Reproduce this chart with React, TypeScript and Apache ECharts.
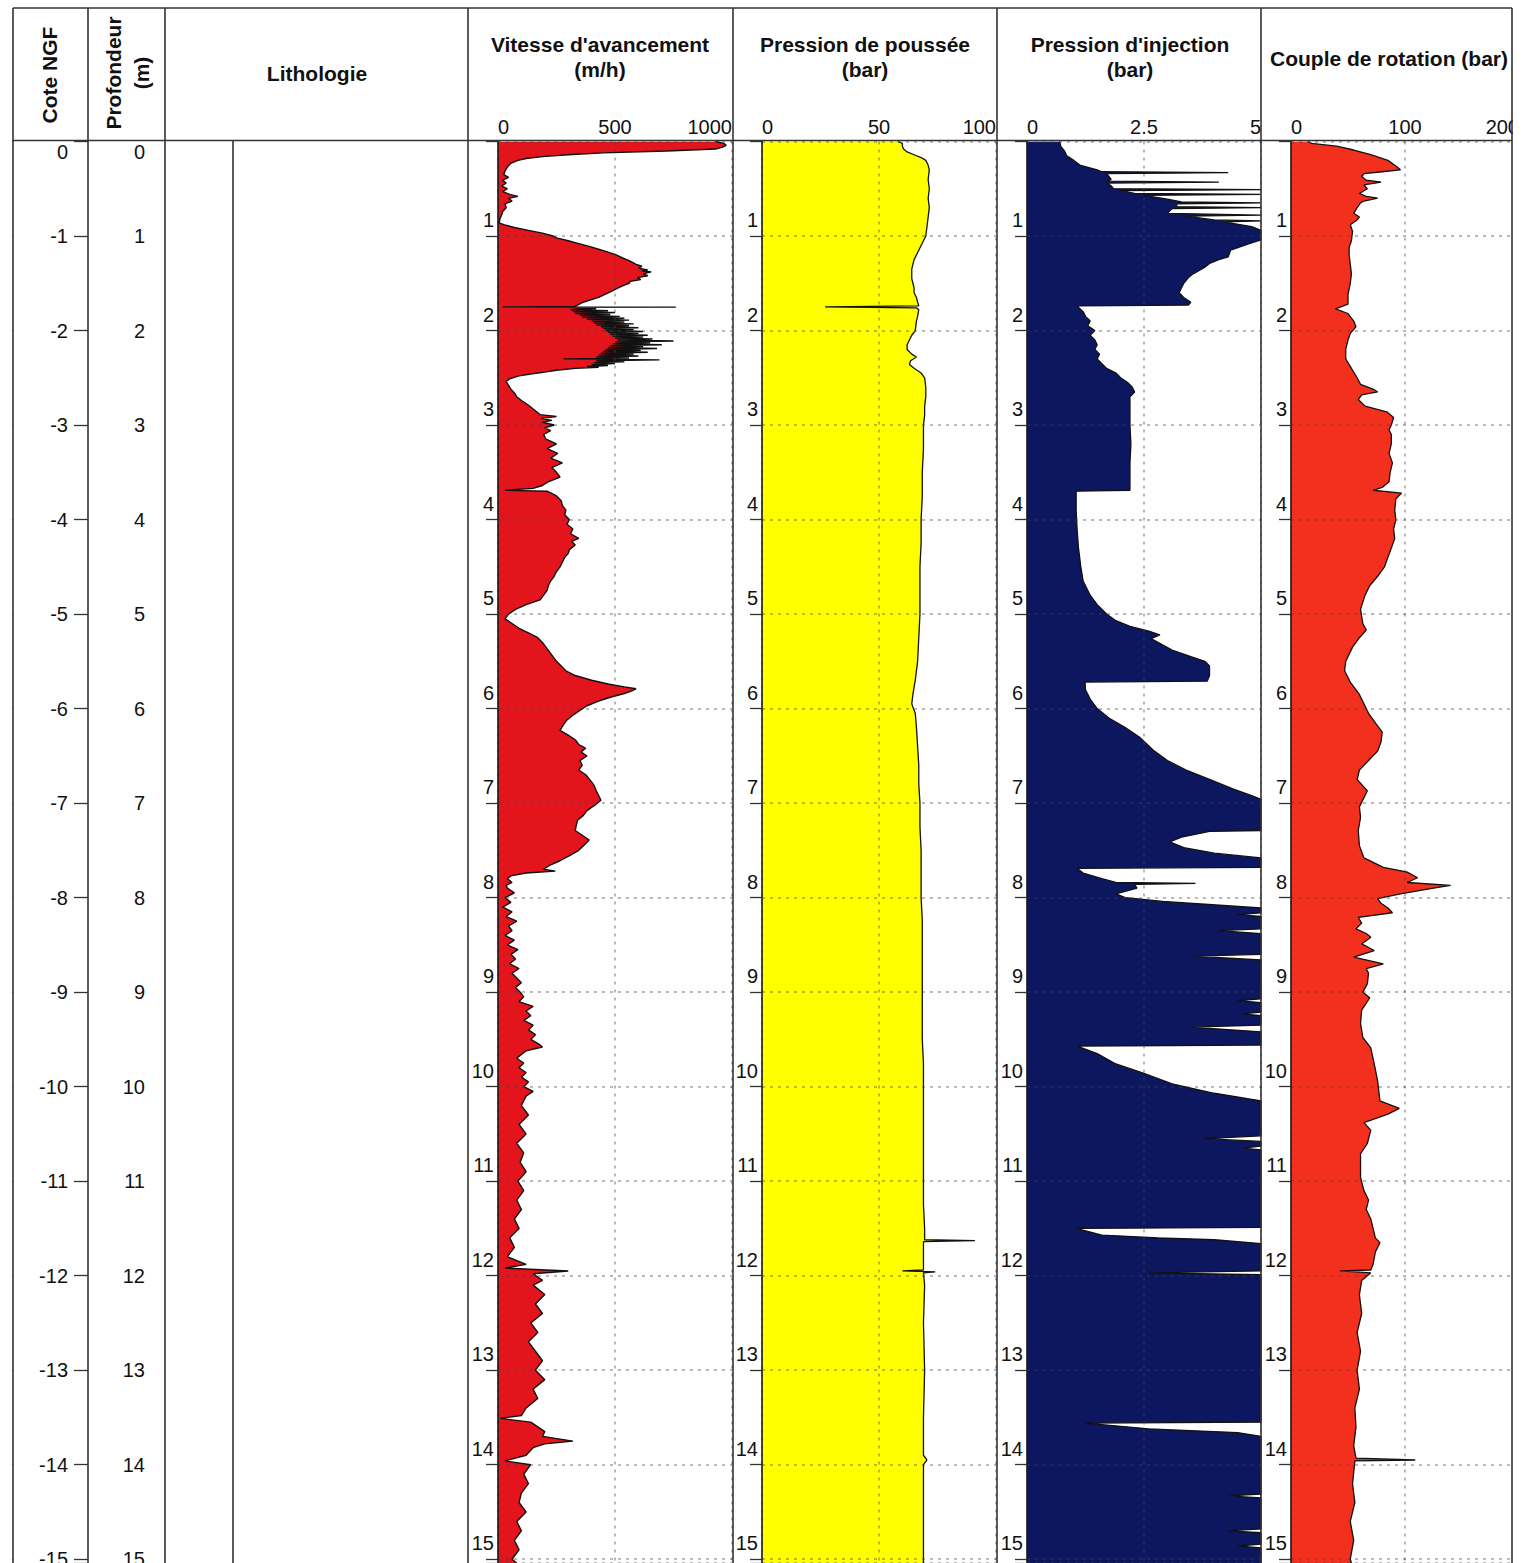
import React, { useEffect, useRef } from "react";
import * as echarts from "echarts";

const FONT = '"Liberation Sans", Arial, Helvetica, sans-serif';
const DEPTH_MAX = 15.04;
const TOP = 141.5;
const PAGE_H = 1563;

// [depth (m), value]
const vitesse: [number, number][] = [
  [0.00, 930],[0.02, 965],[0.04, 975],[0.06, 960],[0.08, 930],[0.10, 720],[0.12, 450],[0.14, 300],[0.16, 190],[0.18, 120],[0.20, 85],[0.23, 55],[0.27, 40],[0.31, 30],[0.35, 25],[0.38, 45],[0.41, 20],[0.44, 35],[0.47, 15],[0.50, 40],[0.53, 20],[0.56, 50],[0.58, 85],[0.60, 45],[0.63, 60],[0.66, 30],[0.70, 35],[0.74, 20],[0.78, 15],[0.82, 8],[0.86, 5],[0.88, 25],[0.91, 70],[0.94, 130],[0.97, 190],[1.00, 235],[1.02, 250],[1.05, 300],[1.08, 345],[1.11, 390],[1.14, 430],[1.17, 470],[1.20, 505],[1.23, 530],[1.26, 560],[1.28, 575],[1.30, 590],[1.32, 615],[1.34, 600],[1.36, 640],[1.37, 615],[1.38, 655],[1.40, 620],[1.42, 640],[1.44, 595],[1.46, 610],[1.48, 565],[1.50, 560],[1.53, 530],[1.56, 505],[1.59, 480],[1.62, 455],[1.65, 430],[1.68, 390],[1.71, 355],[1.73, 340],[1.745, 330],[1.75, 20],[1.752, 760],[1.755, 300],
  [1.76, 300],[1.77, 420],[1.78, 310],[1.79, 470],[1.80, 320],[1.81, 500],[1.82, 330],[1.83, 480],[1.84, 350],[1.85, 520],[1.86, 360],[1.87, 540],[1.88, 380],[1.89, 560],[1.90, 400],[1.91, 540],[1.92, 410],[1.93, 580],[1.94, 420],[1.95, 560],[1.96, 440],[1.97, 600],[1.98, 450],[1.99, 580],[2.00, 460],[2.01, 620],[2.02, 470],[2.03, 600],[2.04, 480],[2.05, 640],[2.06, 490],[2.07, 620],[2.08, 500],[2.09, 660],[2.10, 510],[2.11, 750],[2.12, 500],[2.13, 650],[2.14, 490],[2.15, 700],[2.16, 480],[2.17, 620],[2.18, 470],[2.19, 680],[2.20, 460],[2.21, 610],[2.22, 450],[2.23, 640],[2.24, 440],[2.25, 580],[2.26, 430],[2.27, 600],[2.28, 420],[2.29, 560],[2.30, 280],[2.31, 690],[2.32, 420],[2.33, 540],[2.34, 410],[2.35, 500],[2.36, 400],[2.37, 470],[2.38, 380],[2.39, 430],[2.40, 330],[2.42, 250],[2.44, 200],[2.46, 140],[2.48, 90],[2.51, 50],[2.54, 35],[2.58, 45],[2.62, 55],[2.66, 70],[2.70, 80],[2.74, 100],[2.78, 125],[2.82, 145],[2.86, 165],[2.89, 180],[2.91, 250],[2.93, 185],[2.95, 230],[2.97, 190],[3.00, 240],[3.03, 200],[3.06, 225],[3.10, 195],
  [3.15, 205],[3.20, 250],[3.25, 210],[3.30, 255],[3.35, 225],[3.40, 275],[3.45, 230],[3.50, 250],[3.55, 265],[3.60, 215],[3.64, 190],[3.67, 150],[3.69, 30],[3.70, 210],[3.75, 250],[3.80, 270],[3.85, 275],[3.90, 290],[3.95, 285],[4.00, 305],[4.05, 295],[4.10, 320],[4.15, 310],[4.20, 345],[4.23, 315],[4.27, 330],[4.32, 305],[4.36, 300],[4.40, 285],[4.45, 275],[4.50, 265],[4.55, 250],[4.60, 240],[4.65, 225],[4.70, 215],[4.75, 210],[4.80, 195],[4.85, 180],[4.90, 120],[4.95, 75],[5.00, 45],[5.05, 30],[5.10, 60],[5.15, 90],[5.20, 130],[5.25, 170],[5.30, 190],[5.35, 205],[5.40, 220],[5.45, 235],[5.50, 250],[5.55, 270],[5.60, 290],[5.65, 330],[5.70, 400],[5.74, 470],[5.77, 540],[5.79, 590],[5.81, 575],[5.84, 540],[5.88, 480],[5.92, 430],[5.97, 380],[6.02, 350],[6.07, 320],[6.12, 295],[6.17, 280],[6.23, 265],[6.28, 300],[6.33, 330],[6.38, 345],[6.42, 375],[6.46, 355],[6.50, 380],[6.55, 350],[6.60, 360],[6.65, 345],[6.70, 375],[6.76, 395],[6.81, 410],[6.87, 420],[6.92, 430],[6.97, 440],[7.02, 415],[7.08, 380],[7.13, 365],[7.18, 340],[7.23, 335],[7.29, 330],[7.34, 360],[7.39, 390],[7.44, 370],[7.50, 345],[7.55, 310],[7.61, 265],[7.66, 220],[7.70, 195],[7.72, 245],[7.74, 120],[7.77, 55],[7.80, 40],[7.84, 60],[7.87, 35],[7.90, 40],[7.95, 70],[8.00, 30],[8.05, 55],[8.10, 20],[8.15, 60],[8.20, 35],[8.25, 80],[8.30, 45],[8.35, 60],[8.40, 30],[8.45, 70],[8.50, 40],[8.55, 85],[8.60, 55],[8.65, 75],[8.70, 50],[8.75, 90],[8.80, 60],[8.85, 80],[8.90, 100],[8.95, 75],[9.00, 95],[9.05, 110],[9.10, 90],[9.15, 150],[9.20, 120],[9.25, 140],[9.30, 110],[9.35, 150],[9.40, 130],[9.45, 160],[9.50, 140],[9.55, 175],[9.58, 190],[9.62, 120],[9.66, 100],[9.70, 80],[9.75, 110],[9.80, 90],[9.85, 120],[9.90, 100],[9.95, 130],[10.00, 110],[10.05, 150],[10.10, 120],[10.20, 100],[10.30, 130],[10.40, 90],[10.50, 120],[10.60, 80],[10.70, 110],[10.80, 95],[10.90, 120],[11.00, 85],[11.10, 110],[11.20, 80],[11.30, 100],[11.40, 70],[11.50, 90],[11.60, 50],[11.70, 70],[11.80, 40],[11.88, 120],[11.92, 30],[11.95, 300],[11.98, 150],[12.05, 190],[12.10, 150],[12.20, 200],[12.30, 160],[12.40, 190],[12.50, 140],[12.60, 170],[12.70, 130],[12.80, 160],[12.90, 190],[13.00, 160],[13.10, 200],[13.20, 150],[13.30, 170],[13.40, 120],[13.48, 100],[13.51, 10],[13.55, 140],[13.60, 170],[13.65, 200],[13.70, 190],[13.75, 320],[13.78, 200],[13.82, 150],[13.90, 120],[13.96, 30],[14.00, 140],[14.10, 110],[14.20, 130],[14.30, 100],[14.40, 90],[14.50, 120],[14.60, 80],[14.70, 100],[14.80, 70],[14.90, 90],[15.00, 60],[15.04, 80],
];

const poussee: [number, number][] = [
  [0.00, 58],[0.02, 60],[0.05, 60],[0.08, 60.5],[0.11, 62],[0.14, 65],[0.17, 68],[0.20, 70],[0.25, 71],[0.30, 71.5],[0.40, 71],[0.50, 71.5],[0.60, 71],[0.70, 71.5],[0.80, 71],[0.90, 70.5],[1.00, 70],[1.05, 69],[1.10, 68],[1.15, 67],[1.20, 66],[1.25, 65],[1.30, 64.5],[1.35, 64],[1.40, 64],[1.45, 64],[1.50, 64.5],[1.55, 65],[1.60, 65],[1.65, 66],[1.70, 66.5],[1.74, 67],[1.75, 27],[1.76, 66],[1.78, 67],[1.85, 66.5],[1.90, 66],[2.00, 65.5],[2.05, 64],[2.10, 63],[2.15, 62],[2.20, 62],[2.25, 64],[2.28, 66],[2.32, 63.5],[2.36, 63],[2.40, 65],[2.45, 68],[2.50, 69.5],[2.60, 70],[2.70, 70],[2.80, 69.5],[2.90, 69.5],[3.00, 69],[3.25, 69],[3.50, 68.5],[3.75, 68.5],[4.00, 68],[4.25, 68],[4.50, 67.5],[4.75, 67.5],[5.00, 67.5],[5.25, 67],[5.50, 66.5],[5.70, 65.5],[5.85, 64.5],[5.95, 64],[6.05, 65.5],[6.20, 66],[6.40, 66.5],[6.60, 67],[6.80, 67],[7.00, 67.5],[7.25, 67.5],[7.50, 68],[7.75, 68],[8.00, 68],[8.25, 68.5],[8.50, 68.5],[8.75, 68.5],[9.00, 68.5],[9.25, 68.5],[9.50, 68.5],[9.75, 69],[10.00, 69],[10.25, 69],[10.50, 69],[10.75, 69],[11.00, 69],[11.25, 69],[11.50, 69.5],[11.62, 69.5],[11.63, 91],[11.64, 69],[11.80, 69],[11.94, 69],[11.95, 60],[11.96, 74],[11.97, 69],[12.10, 69.5],[12.50, 69],[13.00, 69.5],[13.50, 69],[13.90, 69],[13.95, 70.5],[14.00, 69],[14.50, 69],[15.00, 69],[15.04, 69],
];

const injection: [number, number][] = [
  [0.00, 0.7],[0.05, 0.72],[0.10, 0.8],[0.15, 0.85],[0.20, 1.0],[0.25, 1.13],[0.30, 1.5],[0.32, 1.6],[0.33, 4.3],[0.34, 1.7],[0.37, 1.75],[0.40, 1.8],[0.42, 1.7],[0.43, 4.1],[0.44, 1.7],[0.47, 1.8],[0.50, 1.85],[0.51, 5.0],[0.52, 2.0],[0.55, 2.3],[0.56, 5.0],[0.57, 2.5],[0.61, 3.0],[0.64, 3.3],[0.65, 5.0],[0.66, 3.2],[0.69, 3.2],[0.70, 5.0],[0.71, 3.1],[0.76, 3.0],[0.78, 5.0],[0.79, 3.4],[0.83, 4.0],[0.84, 5.0],[0.85, 4.2],[0.90, 4.8],[0.94, 5.0],[1.04, 5.0],[1.08, 4.75],[1.15, 4.35],[1.22, 4.3],[1.25, 4.1],[1.29, 3.9],[1.33, 3.8],[1.36, 3.7],[1.40, 3.55],[1.44, 3.45],[1.50, 3.35],[1.55, 3.3],[1.60, 3.25],[1.65, 3.35],[1.70, 3.5],[1.73, 3.45],[1.74, 1.07],[1.80, 1.2],[1.85, 1.25],[1.90, 1.35],[1.95, 1.3],[2.00, 1.45],[2.05, 1.35],[2.10, 1.45],[2.15, 1.5],[2.20, 1.45],[2.25, 1.55],[2.30, 1.5],[2.35, 1.6],[2.40, 1.7],[2.45, 1.9],[2.50, 2.0],[2.55, 2.15],[2.60, 2.25],[2.65, 2.3],[2.70, 2.2],[2.80, 2.2],[3.00, 2.2],[3.20, 2.22],[3.40, 2.2],[3.60, 2.2],[3.69, 2.2],[3.70, 1.05],[3.90, 1.05],[4.10, 1.07],[4.30, 1.1],[4.50, 1.15],[4.65, 1.2],[4.80, 1.35],[4.90, 1.5],[5.00, 1.7],[5.07, 1.9],[5.13, 2.2],[5.18, 2.6],[5.22, 2.84],[5.26, 2.65],[5.30, 2.8],[5.38, 3.1],[5.45, 3.5],[5.50, 3.8],[5.55, 3.9],[5.65, 3.9],[5.71, 3.85],[5.72, 1.24],[5.80, 1.25],[5.90, 1.35],[6.00, 1.5],[6.10, 1.75],[6.20, 2.1],[6.30, 2.4],[6.44, 2.7],[6.55, 3.0],[6.65, 3.4],[6.75, 3.9],[6.85, 4.4],[6.92, 4.8],[6.96, 5.0],[7.29, 5.0],[7.30, 3.9],[7.36, 3.3],[7.41, 3.05],[7.47, 3.35],[7.53, 4.0],[7.58, 5.0],[7.68, 5.0],[7.69, 1.07],[7.74, 1.2],[7.80, 1.6],[7.84, 1.9],[7.85, 3.6],[7.86, 2.3],[7.90, 2.35],[7.96, 1.9],[8.00, 2.1],[8.04, 2.9],[8.07, 3.8],[8.11, 5.0],[8.16, 5.0],[8.18, 4.5],[8.20, 5.0],[8.33, 5.0],[8.35, 4.1],[8.38, 5.0],[8.60, 5.0],[8.62, 3.55],[8.66, 5.0],[9.07, 5.0],[9.09, 4.5],[9.11, 5.0],[9.21, 5.0],[9.23, 4.6],[9.25, 5.0],[9.35, 5.0],[9.37, 3.5],[9.42, 5.0],[9.56, 5.0],[9.57, 1.07],[9.65, 1.5],[9.76, 1.9],[9.86, 2.5],[9.97, 3.1],[10.07, 4.0],[10.15, 5.0],[10.52, 5.0],[10.55, 3.8],[10.58, 5.0],[10.63, 5.0],[10.65, 4.6],[10.67, 5.0],[11.49, 5.0],[11.50, 1.05],[11.57, 1.6],[11.60, 2.8],[11.62, 4.0],[11.66, 5.0],[11.95, 5.0],[11.97, 2.6],[11.99, 5.0],[13.55, 5.0],[13.56, 1.24],[13.62, 2.6],[13.66, 4.5],[13.70, 5.0],[14.31, 5.0],[14.33, 4.3],[14.35, 5.0],[14.68, 5.0],[14.70, 4.3],[14.72, 5.0],[14.84, 5.0],[14.86, 4.5],[14.88, 5.0],[15.04, 5.0],
];

const couple: [number, number][] = [
  [0.00, 15],[0.02, 18],[0.05, 40],[0.09, 55],[0.14, 70],[0.20, 85],[0.26, 92],[0.30, 96],[0.32, 80],[0.34, 64],[0.37, 62],[0.41, 66],[0.43, 79],[0.46, 64],[0.50, 67],[0.55, 60],[0.58, 66],[0.60, 76],[0.63, 64],[0.65, 61],[0.70, 58],[0.76, 55],[0.80, 60],[0.83, 58],[0.88, 52],[0.95, 54],[1.05, 53],[1.12, 51],[1.20, 51],[1.30, 52],[1.40, 53],[1.50, 52],[1.62, 50],[1.72, 50],[1.77, 39],[1.82, 50],[1.90, 55],[1.96, 57],[2.03, 52],[2.10, 50],[2.20, 48],[2.30, 48],[2.40, 53],[2.50, 58],[2.57, 61],[2.62, 72],[2.65, 76],[2.68, 62],[2.73, 59],[2.80, 65],[2.86, 84],[2.92, 90],[3.00, 88],[3.05, 86],[3.10, 88],[3.20, 88],[3.30, 86],[3.40, 89],[3.50, 87],[3.60, 86],[3.66, 80],[3.69, 72],[3.72, 97],[3.78, 92],[3.90, 91],[4.00, 92],[4.10, 90],[4.20, 91],[4.30, 88],[4.40, 85],[4.50, 82],[4.60, 76],[4.70, 69],[4.80, 65],[4.95, 61],[5.10, 63],[5.17, 66],[5.25, 60],[5.35, 54],[5.50, 48],[5.60, 47],[5.72, 52],[5.85, 60],[5.95, 64],[6.05, 68],[6.15, 74],[6.25, 80],[6.35, 79],[6.45, 76],[6.55, 68],[6.65, 60],[6.75, 58],[6.87, 67],[7.04, 60],[7.15, 61],[7.29, 59],[7.45, 60],[7.58, 64],[7.68, 81],[7.73, 102],[7.79, 111],[7.84, 102],[7.87, 140],[7.90, 125],[7.96, 96],[8.01, 76],[8.06, 79],[8.11, 85],[8.16, 89],[8.21, 59],[8.27, 62],[8.33, 57],[8.38, 66],[8.42, 70],[8.49, 62],[8.56, 73],[8.63, 55],[8.70, 81],[8.75, 66],[8.80, 68],[8.91, 67],[9.00, 63],[9.06, 69],[9.19, 62],[9.33, 61],[9.48, 63],[9.59, 70],[9.76, 73],[9.94, 76],[10.15, 78],[10.23, 95],[10.29, 85],[10.38, 64],[10.46, 70],[10.60, 67],[10.71, 61],[10.86, 61],[10.96, 61],[11.10, 64],[11.20, 68],[11.30, 66],[11.40, 70],[11.50, 72],[11.60, 74],[11.65, 78],[11.75, 74],[11.88, 72],[11.94, 70],[11.95, 43],[11.97, 70],[12.05, 62],[12.20, 60],[12.40, 62],[12.60, 58],[12.80, 61],[13.00, 58],[13.20, 60],[13.40, 56],[13.60, 57],[13.80, 55],[13.93, 57],[13.95, 109],[13.96, 56],[14.20, 54],[14.40, 56],[14.60, 52],[14.80, 55],[15.00, 52],[15.04, 53],
];

// [min, max, interval]
const vitesseRange = [0, 1000, 500];
const pousseeRange = [0, 100, 50];
const injectionRange = [0, 5, 2.5];
const coupleRange = [0, 200, 100];

const panelTitles = [
  ["Vitesse d'avancement", "(m/h)"],
  ["Pression de poussée", "(bar)"],
  ["Pression d'injection", "(bar)"],
  ["Couple de rotation (bar)"],
];

function buildOption() {
  const H = PAGE_H - TOP;
  const panels = [
    { left: 498, width: 234, range: vitesseRange, data: vitesse, fill: "#e3141c", cx: 600, lw: 1.4 },
    { left: 762, width: 234, range: pousseeRange, data: poussee, fill: "#ffff00", cx: 865, lw: 1.3 },
    { left: 1027, width: 234, range: injectionRange, data: injection, fill: "#0d175f", cx: 1130, lw: 1.3 },
    { left: 1291, width: 228, range: coupleRange, data: couple, fill: "#f3301d", cx: 1389, lw: 1.3 },
  ];

  const grid: any[] = [
    { left: 13, top: TOP, width: 75, height: H, outerBoundsMode: "none", containLabel: false },
    { left: 88, top: TOP, width: 77, height: H, outerBoundsMode: "none", containLabel: false },
    ...panels.map((p) => ({ left: p.left, top: TOP, width: p.width, height: H, outerBoundsMode: "none", containLabel: false })),
  ];

  const gridLine = { show: true, lineStyle: { color: "rgba(70,70,70,0.5)", type: [3, 5], width: 1.5 } };
  const depthBase = { type: "value", inverse: true, min: 0, max: DEPTH_MAX, interval: 1 };
  const leftAxis = (gi: number, fmt: (v: number) => string) => ({
    ...depthBase,
    gridIndex: gi,
    position: "right",
    axisLine: { show: false },
    axisTick: { show: true, inside: true, length: 14, lineStyle: { color: "#333", width: 1.3 } },
    axisLabel: {
      show: true, inside: true, margin: 20, fontSize: 20, color: "#111", fontFamily: FONT,
      verticalAlignMinLabel: "top",
      formatter: (v: number) => (Number.isInteger(v) ? fmt(v) : ""),
    },
    splitLine: { show: false },
  });

  const yAxis: any[] = [
    leftAxis(0, (v) => (v === 0 ? "0" : "-" + v)),
    leftAxis(1, (v) => String(v)),
    ...panels.map((p, i) => ({
      ...depthBase,
      gridIndex: i + 2,
      position: "left",
      z: 4,
      axisLine: { show: true, onZero: false, lineStyle: { color: "#1a1a1a", width: 1.6 } },
      axisTick: { show: true, length: 12, lineStyle: { color: "#333", width: 1.3 } },
      axisLabel: {
        show: true, margin: 4, fontSize: 20, color: "#111", fontFamily: FONT,
        verticalAlign: "bottom", padding: [0, 0, 6, 0],
        formatter: (v: number) => (Number.isInteger(v) && v > 0 ? String(v) : ""),
      },
      splitLine: gridLine,
    })),
  ];

  const xAxis: any[] = [
    { gridIndex: 0, type: "value", show: false, min: 0, max: 1 },
    { gridIndex: 1, type: "value", show: false, min: 0, max: 1 },
    ...panels.map((p, i) => ({
      gridIndex: i + 2,
      type: "value",
      position: "top",
      min: p.range[0],
      max: p.range[1],
      interval: p.range[2],
      z: 4,
      axisLine: { show: false },
      axisTick: { show: false },
      axisLabel: {
        show: true, margin: 5, fontSize: 20, color: "#111", fontFamily: FONT,
        alignMinLabel: "left", alignMaxLabel: "right",
        formatter: (v: number) => String(v),
      },
      splitLine: gridLine,
    })),
  ];

  const series: any[] = [];
  panels.forEach((p, i) => {
    const pts = p.data;
    series.push({
      type: "custom",
      xAxisIndex: i + 2,
      yAxisIndex: i + 2,
      silent: true,
      clip: true,
      z: 2,
      data: pts.map((d) => [d[1], d[0]]),
      encode: { x: 0, y: 1 },
      renderItem: (params: any, api: any) => {
        if (params.dataIndex !== 0) return null;
        const poly: number[][] = [];
        poly.push(api.coord([0, pts[0][0]]));
        for (const [d, v] of pts) poly.push(api.coord([v, d]));
        poly.push(api.coord([0, pts[pts.length - 1][0]]));
        return { type: "polygon", shape: { points: poly }, style: { fill: p.fill, stroke: null } };
      },
    });
    series.push({
      type: "line",
      xAxisIndex: i + 2,
      yAxisIndex: i + 2,
      silent: true,
      z: 3,
      symbol: "none",
      showSymbol: false,
      data: pts.map((d) => [d[1], d[0]]),
      lineStyle: { color: "#111", width: p.lw },
    });
  });

  const stroke = { stroke: "#333", lineWidth: 1.6 };
  const vLines = [13, 88, 165, 468, 733, 997, 1261, 1512];
  const graphic: any[] = [
    { type: "rect", shape: { x: 0, y: 0, width: 12, height: PAGE_H }, style: { fill: "#fff" }, z: 99 },
    { type: "rect", shape: { x: 1513, y: 0, width: 12, height: PAGE_H }, style: { fill: "#fff" }, z: 99 },
    { type: "line", shape: { x1: 13, y1: 8, x2: 1512, y2: 8 }, style: stroke, z: 100 },
    { type: "line", shape: { x1: 13, y1: 140.5, x2: 1512, y2: 140.5 }, style: stroke, z: 100 },
    ...vLines.map((x) => ({ type: "line", shape: { x1: x, y1: 8, x2: x, y2: PAGE_H }, style: stroke, z: 100 })),
    { type: "line", shape: { x1: 233, y1: 140.5, x2: 233, y2: PAGE_H }, style: stroke, z: 100 },
  ];
  const title = (text: string, x: number, y: number, rot = 0) => ({
    type: "text", x, y, rotation: rot, z: 101,
    style: { text, fontSize: 21, fontWeight: "bold", fontFamily: FONT, fill: "#111", align: "center", verticalAlign: "middle" },
  });
  graphic.push(title("Cote NGF", 49, 75, Math.PI / 2));
  graphic.push(title("Profondeur", 113, 73, Math.PI / 2));
  graphic.push(title("(m)", 141, 73, Math.PI / 2));
  graphic.push(title("Lithologie", 317, 73));
  panels.forEach((p, i) => {
    const t = panelTitles[i];
    if (t.length === 2) {
      graphic.push(title(t[0], p.cx, 44));
      graphic.push(title(t[1], p.cx, 69));
    } else {
      graphic.push(title(t[0], p.cx, 58));
    }
  });

  return {
    animation: false,
    backgroundColor: "#ffffff",
    textStyle: { fontFamily: FONT },
    grid,
    xAxis,
    yAxis,
    series,
    graphic,
  };
}

export default function App() {
  const ref = useRef<HTMLDivElement>(null);
  useEffect(() => {
    const chart = echarts.init(ref.current!, null, { renderer: "svg" });
    chart.setOption(buildOption() as any);
    return () => chart.dispose();
  }, []);
  return (
    <div
      ref={ref}
      style={{ position: "absolute", left: 0, top: 0, width: 1525, height: 1563, background: "#fff" }}
    />
  );
}
